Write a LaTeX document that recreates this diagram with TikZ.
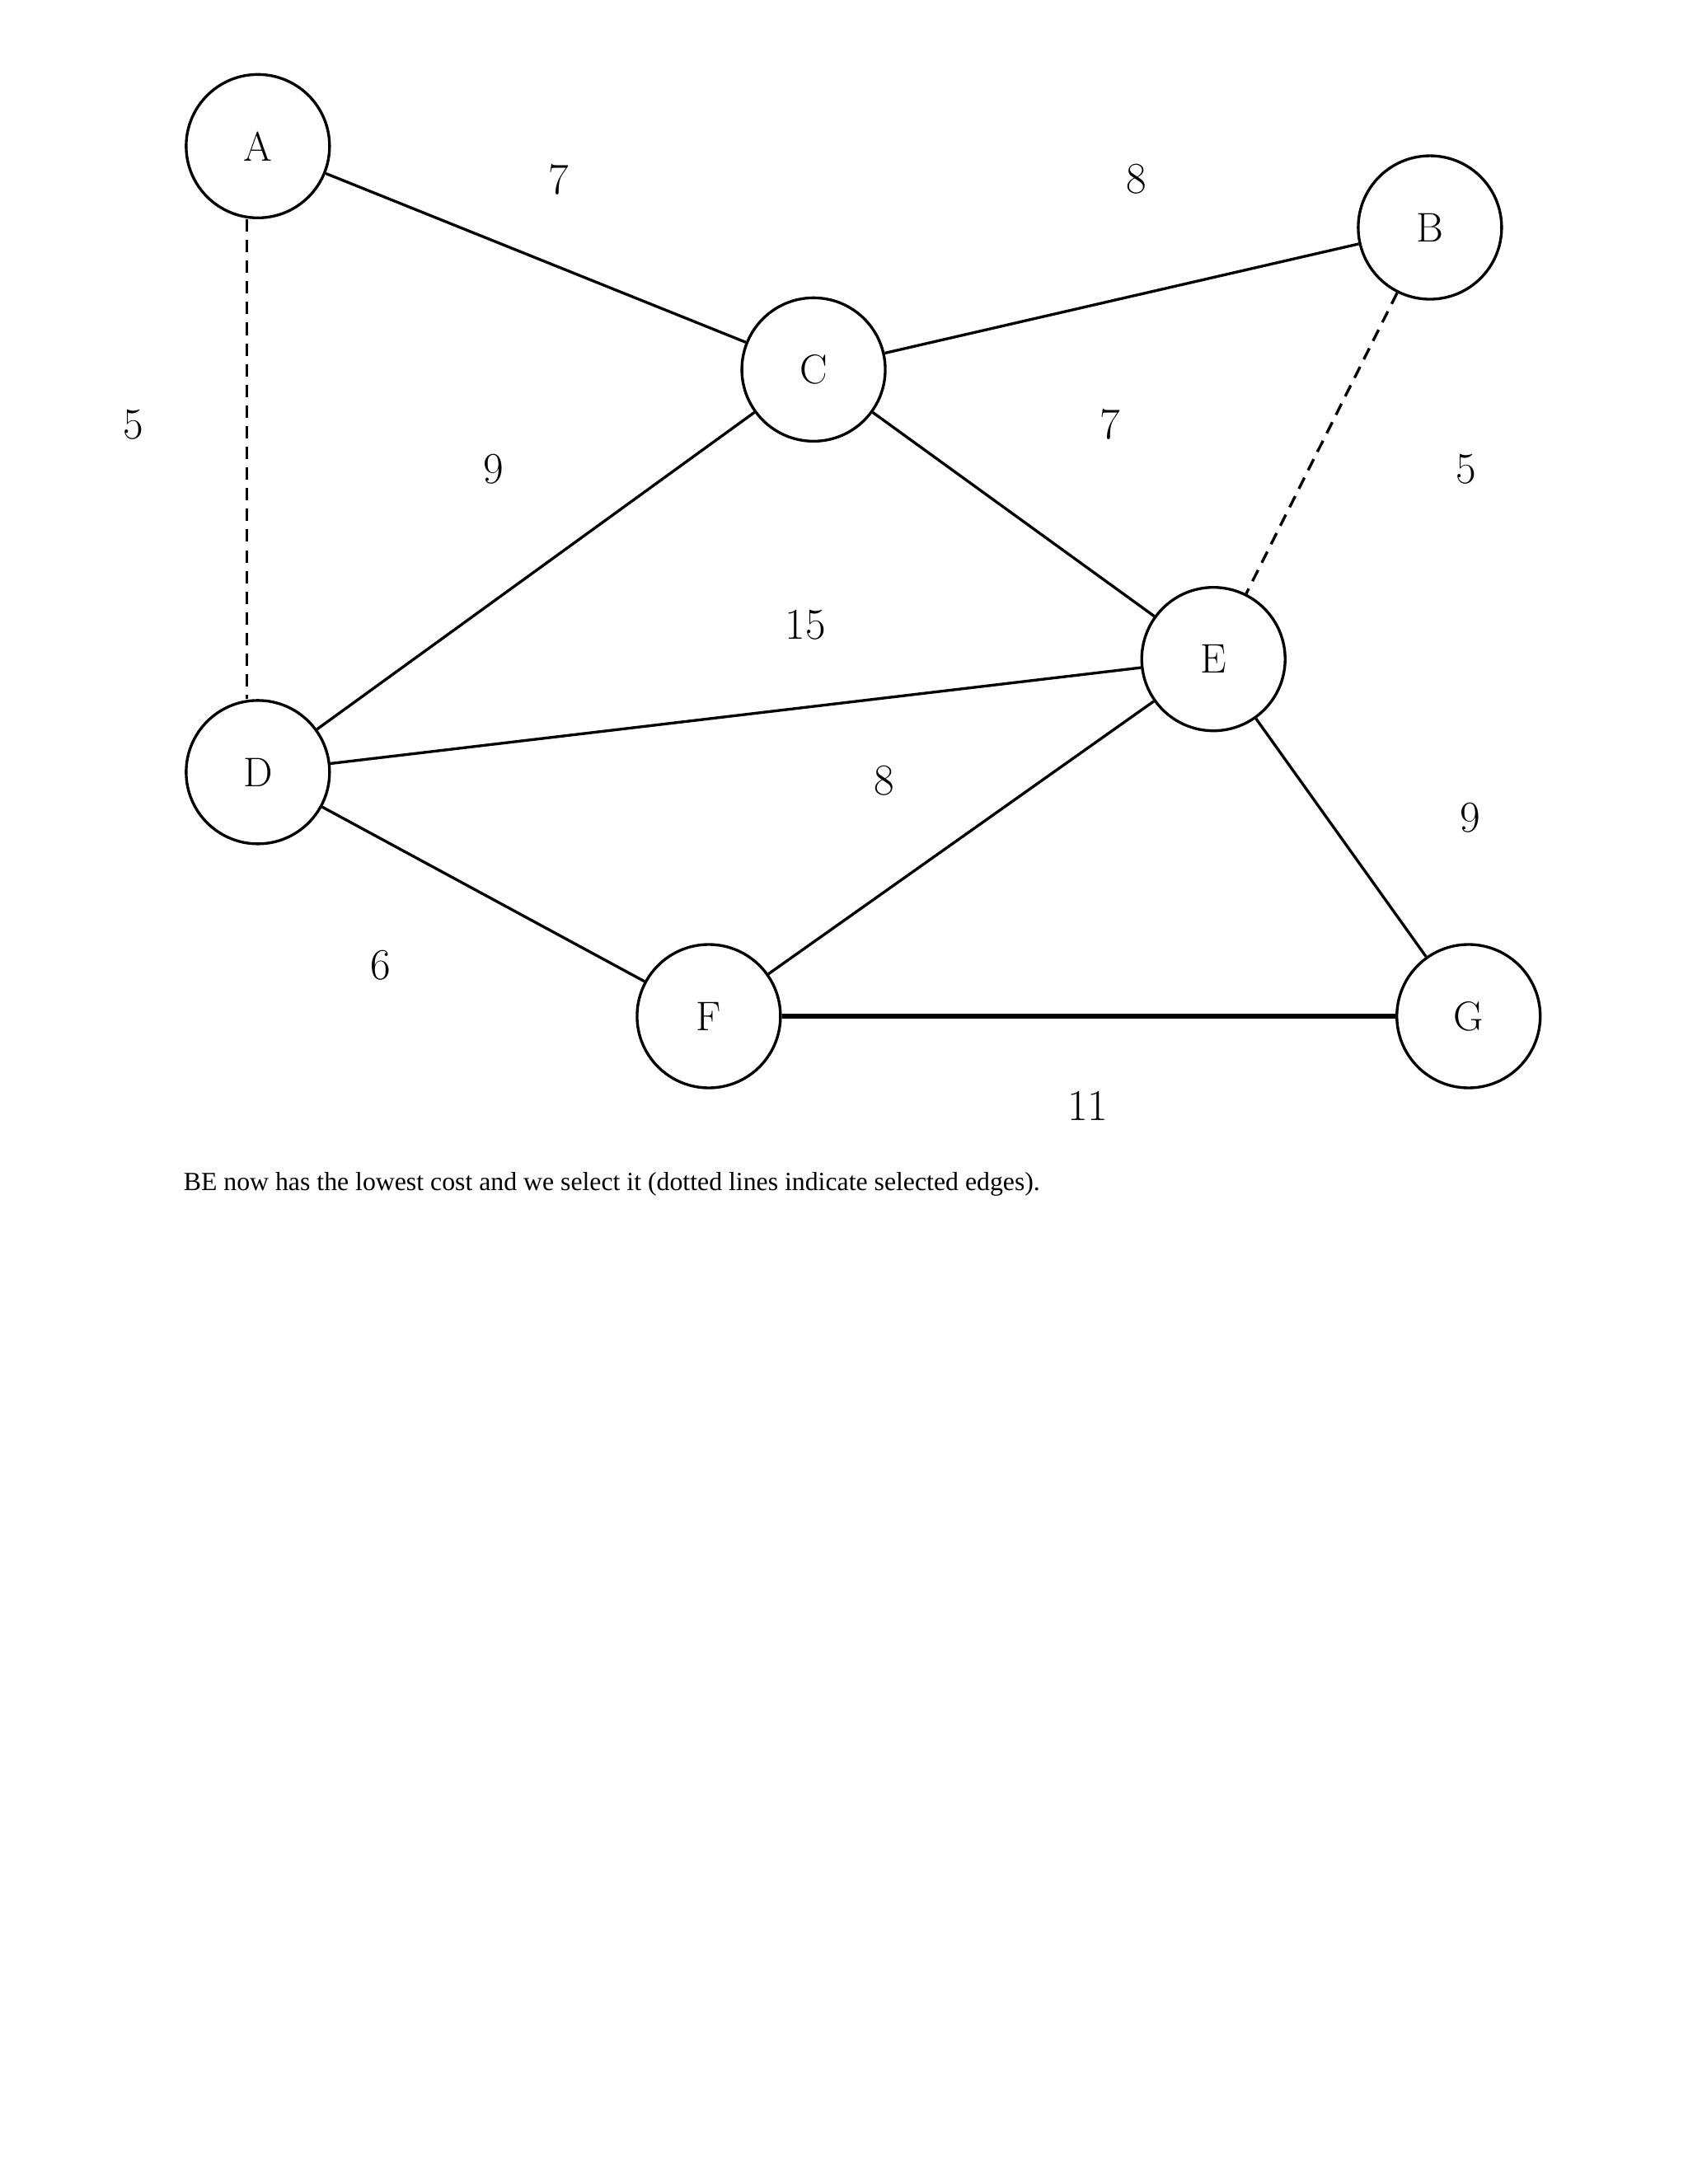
\documentclass[tikz,border=0pt]{standalone}
\usepackage{fontspec}
\setmainfont{Liberation Serif}
\newfontfamily\lm{Latin Modern Roman}
\begin{document}
\begin{tikzpicture}[x=1pt,y=-1pt,
  vtx/.style={circle,draw,line width=2pt,minimum size=104pt,inner sep=0pt,font=\lm\fontsize{30}{30}\selectfont},
  edge/.style={line width=2pt},
  sel/.style={line width=2pt,dash pattern=on 9pt off 6pt},
  wt/.style={font=\lm\fontsize{32}{32}\selectfont}]
\useasboundingbox (0,0) rectangle (1224,1584);
\node[vtx] (A) at (187,106) {A};
\node[vtx] (B) at (1037,165) {B};
\node[vtx] (C) at (590,268) {C};
\node[vtx] (D) at (187,560) {D};
\node[vtx] (E) at (880,478) {E};
\node[vtx] (F) at (514,737) {F};
\node[vtx] (G) at (1065,737) {G};
\draw[edge] (A) -- (C);
\draw[sel] (A.south) ++(-8,0) coordinate (a1) (D.north) ++(-8,0) coordinate (d1);
\draw[sel] (a1) -- (d1);
\draw[edge] (C) -- (B);
\draw[sel] (B) -- (E);
\draw[edge] (C) -- (E);
\draw[edge] (C) -- (D);
\draw[edge] (D) -- (E);
\draw[edge] (D) -- (F);
\draw[edge] (F) -- (E);
\draw[line width=3pt] (F) -- (G);
\draw[edge] (E) -- (G);
\node[wt] (w1) at (405,130) {7};
\node[wt] (w2) at (824,130) {8};
\node[wt] (w3) at (97,308) {5};
\node[wt] (w4) at (358,340) {9};
\node[wt] (w5) at (805,308) {7};
\node[wt] (w6) at (1063,340) {5};
\node[wt] (w7) at (584,453) {15};
\node[wt] (w8) at (641,566) {8};
\node[wt] (w9) at (1066,593) {9};
\node[wt] (w10) at (276,700) {6};
\node[wt] (w11) at (789,802) {11};
\node[anchor=west,inner sep=0pt,font=\fontsize{19}{19}\selectfont] (cap) at (133,859) {BE now has the lowest cost and we select it (dotted lines indicate selected edges).};
\end{tikzpicture}
\end{document}
